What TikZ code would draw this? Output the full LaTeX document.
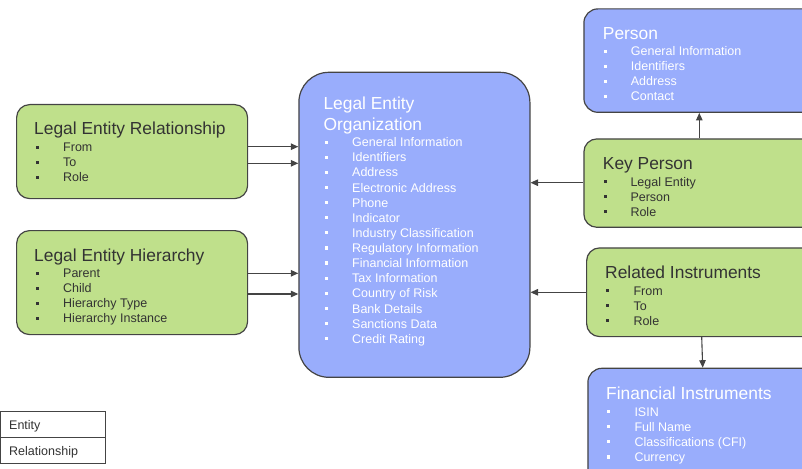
\documentclass[tikz,border=0pt]{standalone}
\usepackage{fontspec}
\setmainfont{Liberation Sans}
\usetikzlibrary{arrows.meta}
\definecolor{gfill}{HTML}{BFE08B}
\definecolor{bfill}{HTML}{99ADFC}
\definecolor{edge}{HTML}{444444}
\definecolor{dtext}{HTML}{333333}
\tikzset{
  ent/.style={draw=edge, line width=1.2pt, fill=bfill, rounded corners=14pt, anchor=north west, inner sep=0},
  rel/.style={draw=edge, line width=1.2pt, fill=gfill, rounded corners=13pt, anchor=north west, inner sep=0},
  ttl/.style={anchor=base west, inner sep=0, font=\fontsize{17.4}{20}\selectfont},
  itm/.style={anchor=base west, inner sep=0, font=\fontsize{12.5}{15}\selectfont},
  legcell/.style={draw=edge, line width=0.8pt, anchor=north west, minimum width=105pt, minimum height=26pt, inner sep=0},
  legtxt/.style={anchor=base west, inner sep=0, font=\fontsize{12.5}{15}\selectfont, text=dtext},
  conn/.style={draw=edge, line width=1.1pt, -{Triangle[length=7.5pt,width=6.5pt]}},
}
% #1 name, #2 bullet x, #3 text x, #4 first baseline, #5 step, #6 colour, #7 list
\newcommand\bitems[7]{%
  \foreach \t [count=\i from 0] in {#7} {
    \fill[#6] (#2, #4+\i*#5-6.2) rectangle ++(3.2,3.2);
    \node[itm, text=#6] (#1-\i) at (#3, #4+\i*#5) {\t};
  }}
\begin{document}
\begin{tikzpicture}[x=1pt, y=-1pt]
\useasboundingbox (0,0) rectangle (802,468);
\clip (0,0) rectangle (802,468);

% ---- boxes ----
\node[rel, minimum width=231pt, minimum height=94pt] (ler) at (16,104) {};
\node[rel, minimum width=231pt, minimum height=104pt] (leh) at (16,230) {};
\node[ent, rounded corners=30pt, minimum width=231pt, minimum height=305pt] (leo) at (298.3,71.7) {};
\node[ent, minimum width=240pt, minimum height=103.4pt] (per) at (583.3,8.3) {};
\node[rel, minimum width=240pt, minimum height=88.4pt] (kp) at (583.3,138.3) {};
\node[rel, minimum width=240pt, minimum height=88.7pt] (ri) at (586,247.3) {};
\node[ent, minimum width=240pt, minimum height=120pt] (fi) at (587.3,367.7) {};

% ---- texts ----
\node[ttl, text=dtext] (ler-t) at (34,135) {Legal Entity Relationship};
\bitems{ler}{36}{63}{151.7}{15}{dtext}{From,To,Role}

\node[ttl, text=dtext] (leh-t) at (34,261) {Legal Entity Hierarchy};
\bitems{leh}{36}{63}{277.7}{15}{dtext}{Parent,Child,Hierarchy Type,Hierarchy Instance}

\node[ttl, text=white] (leo-t1) at (323.3,109.3) {Legal Entity};
\node[ttl, text=white] (leo-t2) at (323.3,130) {Organization};
\bitems{leo}{325}{352}{146.7}{15.12}{white}{General Information,Identifiers,Address,Electronic Address,Phone,Indicator,Industry Classification,Regulatory Information,Financial Information,Tax Information,Country of Risk,Bank Details,Sanctions Data,Credit Rating}

\node[ttl, text=white] (per-t) at (602.7,39.3) {Person};
\bitems{per}{603.5}{630.7}{56}{15}{white}{General Information,Identifiers,Address,Contact}

\node[ttl, text=dtext] (kp-t) at (602.7,169.5) {Key Person};
\bitems{kp}{603.5}{630.3}{186}{15}{dtext}{Legal Entity,Person,Role}

\node[ttl, text=dtext] (ri-t) at (605,278.3) {Related Instruments};
\bitems{ri}{606}{633.3}{295}{15}{dtext}{From,To,Role}

\node[ttl, text=white] (fi-t) at (606,399.3) {Financial Instruments};
\bitems{fi}{607}{634.3}{416}{15.2}{white}{ISIN,Full Name,Classifications (CFI),Currency}

% ---- connectors ----
\coordinate (y1) at (0,146.7);
\coordinate (y2) at (0,163.3);
\coordinate (y3) at (0,273.3);
\coordinate (y4) at (0,294);
\coordinate (y5) at (0,182.7);
\coordinate (y6) at (0,292.3);
\coordinate (x1) at (699.3,0);
\draw[conn] (ler.east |- y1) -- (leo.west |- y1);
\draw[conn] (ler.east |- y2) -- (leo.west |- y2);
\draw[conn] (leh.east |- y3) -- (leo.west |- y3);
\draw[conn] (leh.east |- y4) -- (leo.west |- y4);
\draw[conn] (kp.west |- y5) -- (leo.east |- y5);
\draw[conn] (ri.west |- y6) -- (leo.east |- y6);
\draw[conn] (kp.north -| x1) -- (per.south -| x1);
\draw[conn] ([xshift=115.7pt]ri.south west) -- ([xshift=115.4pt]fi.north west);

% ---- legend ----
\node[legcell] (leg1) at (0,411) {};
\node[legcell] (leg2) at (0,437) {};
\node[legtxt] (leg1-t) at (9,429) {Entity};
\node[legtxt] (leg2-t) at (9,455) {Relationship};
\end{tikzpicture}
\end{document}
